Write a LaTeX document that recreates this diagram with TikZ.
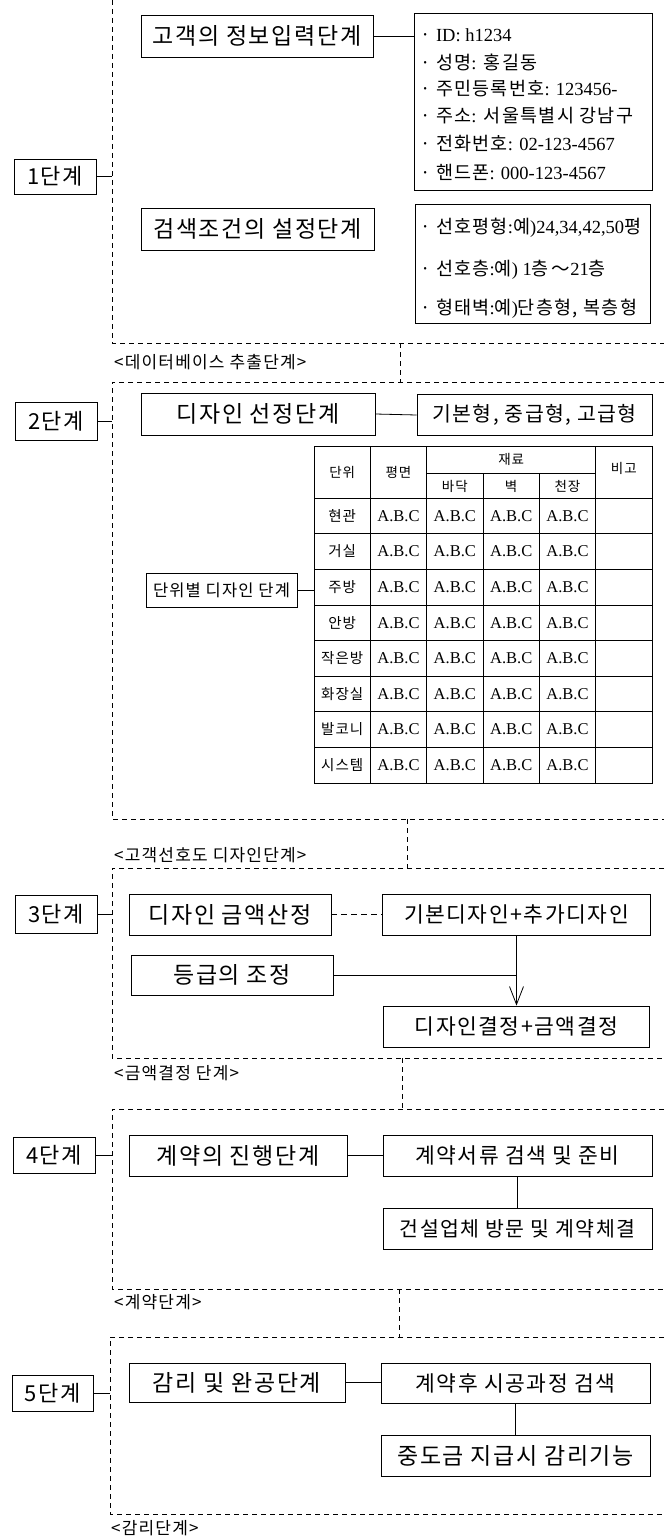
\documentclass[tikz,border=0pt]{standalone}
\usepackage{fontspec}
\setmainfont[LetterSpace=7]{Noto Sans CJK KR}
\newfontfamily\serifabc{Liberation Serif}
\newcommand\ltn[1]{{\serifabc #1}}
\usetikzlibrary{arrows.meta,calc}
\begin{document}
\begin{tikzpicture}[x=1pt,y=-1pt,
  box/.style={draw, line width=0.8pt, inner sep=0pt, align=center},
  frameline/.style={draw, line width=0.8pt, dash pattern=on 5pt off 4pt},
  conn/.style={draw, line width=0.8pt},
  stagef/.style={font=\fontsize{22}{26}\selectfont},
  bigf/.style={font=\fontsize{23}{27}\selectfont},
  midf/.style={font=\fontsize{21.5}{25}\selectfont},
  itemf/.style={font=\fontsize{18.5}{21}\selectfont, anchor=west, inner sep=0pt},
  labf/.style={font=\fontsize{17}{20}\selectfont, anchor=west, inner sep=0pt},
  headf/.style={font=\fontsize{13.5}{15}\selectfont, inner sep=0pt},
  rowf/.style={font=\fontsize{14.5}{16}\selectfont, inner sep=0pt},
  abcf/.style={font=\serifabc\fontsize{16.5}{18}\selectfont, inner sep=0pt},
  thin/.style={line width=0.6pt}]
\useasboundingbox (0,0) rectangle (664,1538);

% ---------- frames ----------
\draw[frameline] (112,0) -- (112,343) -- (664,343);
\draw[frameline] (664,382) -- (112,382) -- (112,819) -- (664,819);
\draw[frameline] (664,868) -- (112,868) -- (112,1058) -- (664,1058);
\draw[frameline] (664,1109) -- (112,1109) -- (112,1289) -- (664,1289);
\draw[frameline] (664,1337) -- (110,1337) -- (110,1514) -- (664,1514);
\coordinate (c1a) at (400,343); \coordinate (c1b) at (400,382);
\coordinate (c2a) at (407,819); \coordinate (c2b) at (407,868);
\coordinate (c3a) at (402,1058); \coordinate (c3b) at (402,1109);
\coordinate (c4a) at (399,1289); \coordinate (c4b) at (399,1337);
\draw[frameline] (c1a) -- (c1b);
\draw[frameline] (c2a) -- (c2b);
\draw[frameline] (c3a) -- (c3b);
\draw[frameline] (c4a) -- (c4b);

% ---------- labels ----------
\node[labf] (l1) at (114,362) {<데이터베이스 추출단계>};
\node[labf] (l2) at (114,855) {<고객선호도 디자인단계>};
\node[labf] (l3) at (114,1073) {<금액결정 단계>};
\node[labf] (l4) at (114,1302) {<계약단계>};
\node[labf] (l5) at (111,1528) {<감리단계>};

% ---------- stage boxes ----------
\node[box, stagef, minimum width=82pt, minimum height=35pt] (s1) at (55,176.5) {1단계};
\node[box, stagef, minimum width=82pt, minimum height=38pt] (s2) at (56,421) {2단계};
\node[box, stagef, minimum width=82pt, minimum height=38pt] (s3) at (56,914) {3단계};
\node[box, stagef, minimum width=82pt, minimum height=36pt] (s4) at (54,1155) {4단계};
\node[box, stagef, minimum width=81pt, minimum height=36pt] (s5) at (52.5,1393) {5단계};
\coordinate (f1) at (112,176.5);
\coordinate (f2) at (112,421);
\coordinate (f3) at (112,914);
\coordinate (f4) at (112,1155);
\coordinate (f5) at (110,1393);
\draw[conn] (s1.east) -- (f1);
\draw[conn] (s2.east) -- (f2);
\draw[conn] (s3.east) -- (f3);
\draw[conn] (s4.east) -- (f4);
\draw[conn] (s5.east) -- (f5);

% ---------- stage 1 ----------
\node[box, bigf, minimum width=232pt, minimum height=42pt] (A) at (257,36) {고객의 정보입력단계};
\node[box, minimum width=238pt, minimum height=177pt] (info) at (533,101.5) {};
\draw[conn] (A.east) -- (A.east -| info.west);
\node[itemf] (i1) at (420,35) {· \ltn{ID: h1234}};
\node[itemf] (i2) at (420,62) {· 성명\ltn{:} 홍길동};
\node[itemf] (i3) at (420,88.5) {· 주민등록번호\ltn{: 123456-}};
\node[itemf] (i4) at (420,115.5) {· 주소\ltn{:} 서울특별시 강남구};
\node[itemf] (i5) at (420,144) {· 전화번호\ltn{: 02-123-4567}};
\node[itemf] (i6) at (420,172) {· 핸드폰\ltn{: 000-123-4567}};

\node[box, bigf, minimum width=233pt, minimum height=42pt] (B) at (257.5,229) {검색조건의 설정단계};
\node[box, minimum width=235pt, minimum height=119pt] (pref) at (532.5,263.5) {};
\node[itemf] (p1) at (420,228) {· 선호평형\ltn{:}예\ltn{)24,34,42,50}평};
\node[itemf] (p2) at (420,270) {· 선호층\ltn{:}예\ltn{) 1}층\,～\ltn{21}층};
\node[itemf] (p3) at (420,309) {· 형태벽\ltn{:}예\ltn{)}단층형, 복층형};

% ---------- stage 2 ----------
\node[box, bigf, minimum width=234pt, minimum height=42pt] (C) at (258,414) {디자인 선정단계};
\node[box, font=\fontsize{20.5}{24}\selectfont, minimum width=235pt, minimum height=41pt] (D) at (534.5,415) {기본형, 중급형, 고급형};
\draw[conn] (C.east) -- (D.west);

\node[draw, line width=0.8pt, minimum width=338pt, minimum height=337pt, inner sep=0pt] (tbl) at (483,614.5) {};
\foreach \xx in {370.33,426.67,595.67} \draw[thin] (\xx,446) -- (\xx,783);
\foreach \xx in {483,539.33} \draw[thin] (\xx,473) -- (\xx,783);
\draw[thin] (426.67,473) -- (595.67,473);
\foreach \k in {0,...,7} \draw[thin] (314,{498+35.625*\k}) -- (652,{498+35.625*\k});
\node[headf] (h1) at (342.2,472) {단위};
\node[headf] (h2) at (398.5,472) {평면};
\node[headf] (h3) at (511.2,459.5) {재료};
\node[headf] (h4) at (454.8,486) {바닥};
\node[headf] (h5) at (511.2,486) {벽};
\node[headf] (h6) at (567.5,486) {천장};
\node[headf] (h7) at (623.8,468) {비고};
\foreach \lab [count=\i] in {현관,거실,주방,안방,작은방,화장실,발코니,시스템} {
  \pgfmathsetmacro\yy{498+35.625*(\i-0.5)}
  \node[rowf] (r\i) at (342.2,\yy) {\lab};
  \foreach \xx [count=\j] in {398.5,454.8,511.2,567.5}
    \node[abcf] (a\i\j) at (\xx,\yy) {A.B.C};
}
\node[box, font=\fontsize{16.5}{19}\selectfont, minimum width=151pt, minimum height=34pt] (E) at (221.5,590) {단위별 디자인 단계};
\draw[conn] (E.east) -- (E.east -| tbl.west);

% ---------- stage 3 ----------
\node[box, bigf, minimum width=202pt, minimum height=41pt] (F) at (230,914.5) {디자인 금액산정};
\node[box, midf, minimum width=268pt, minimum height=41pt] (G) at (516.5,914.5) {기본디자인+추가디자인};
\draw[conn, dash pattern=on 6pt off 4pt] (F.east) -- (G.west);
\node[box, bigf, minimum width=202pt, minimum height=40pt] (H) at (232,975) {등급의 조정};
\node[box, midf, minimum width=266pt, minimum height=41pt] (I) at (516.5,1026.5) {디자인결정+금액결정};
\draw[conn, -{Straight Barb[length=18pt,width=14pt]}] (G.south) -- (I.north);
\draw[conn] (H.east) -- (H.east -| G.south);

% ---------- stage 4 ----------
\node[box, bigf, minimum width=218pt, minimum height=41pt] (J) at (238,1155.5) {계약의 진행단계};
\node[box, midf, minimum width=269pt, minimum height=41pt] (K) at (517.5,1155.5) {계약서류 검색 및 준비};
\node[box, font=\fontsize{20.5}{24}\selectfont, minimum width=269pt, minimum height=41pt] (L) at (517.5,1228.5) {건설업체 방문 및 계약체결};
\draw[conn] (J.east) -- (K.west);
\draw[conn] (K.south) -- (L.north);

% ---------- stage 5 ----------
\node[box, bigf, minimum width=216pt, minimum height=39pt] (M) at (237,1382.5) {감리 및 완공단계};
\node[box, midf, minimum width=269pt, minimum height=40pt] (N) at (515.5,1383) {계약후 시공과정 검색};
\node[box, bigf, minimum width=269pt, minimum height=41pt] (O) at (515.5,1455.5) {중도금 지급시 감리기능};
\draw[conn] (M.east) -- (M.east -| N.west);
\draw[conn] (N.south) -- (O.north);
\end{tikzpicture}
\end{document}
